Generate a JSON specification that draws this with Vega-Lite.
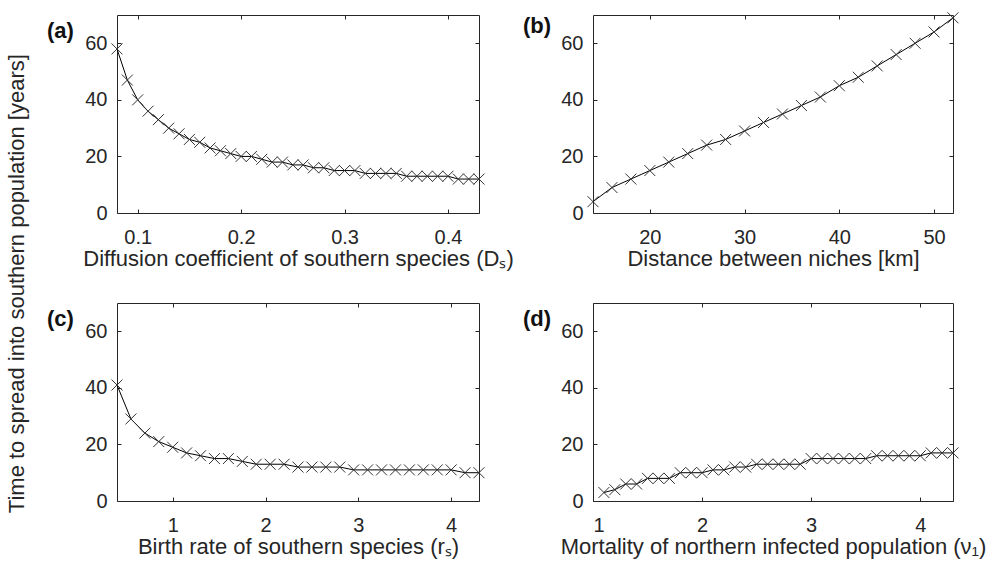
{
  "$schema": "https://vega.github.io/schema/vega-lite/v6.json",
  "padding": {"left": 5, "top": 9, "right": 5, "bottom": 5},
  "background": "white",
  "title": {"text": "Time to spread into southern population [years]", "orient": "left", "anchor": "middle", "fontSize": 22, "fontWeight": "normal", "font": "Liberation Sans", "color": "#262626", "offset": 18},
  "datasets": {
    "a": [
      {"x": 0.08, "y": 58}, {"x": 0.09, "y": 47}, {"x": 0.10, "y": 40}, {"x": 0.11, "y": 36}, {"x": 0.12, "y": 33},
      {"x": 0.13, "y": 30}, {"x": 0.14, "y": 28}, {"x": 0.15, "y": 26}, {"x": 0.16, "y": 25}, {"x": 0.17, "y": 23},
      {"x": 0.18, "y": 22}, {"x": 0.19, "y": 21}, {"x": 0.20, "y": 20}, {"x": 0.21, "y": 20}, {"x": 0.22, "y": 19},
      {"x": 0.23, "y": 18}, {"x": 0.24, "y": 18}, {"x": 0.25, "y": 17}, {"x": 0.26, "y": 17}, {"x": 0.27, "y": 16},
      {"x": 0.28, "y": 16}, {"x": 0.29, "y": 15}, {"x": 0.30, "y": 15}, {"x": 0.31, "y": 15}, {"x": 0.32, "y": 14},
      {"x": 0.33, "y": 14}, {"x": 0.34, "y": 14}, {"x": 0.35, "y": 14}, {"x": 0.36, "y": 13}, {"x": 0.37, "y": 13},
      {"x": 0.38, "y": 13}, {"x": 0.39, "y": 13}, {"x": 0.40, "y": 13}, {"x": 0.41, "y": 12}, {"x": 0.42, "y": 12},
      {"x": 0.43, "y": 12}
    ],
    "b": [
      {"x": 14, "y": 4}, {"x": 16, "y": 9}, {"x": 18, "y": 12}, {"x": 20, "y": 15}, {"x": 22, "y": 18},
      {"x": 24, "y": 21}, {"x": 26, "y": 24}, {"x": 28, "y": 26}, {"x": 30, "y": 29}, {"x": 32, "y": 32},
      {"x": 34, "y": 35}, {"x": 36, "y": 38}, {"x": 38, "y": 41}, {"x": 40, "y": 45}, {"x": 42, "y": 48},
      {"x": 44, "y": 52}, {"x": 46, "y": 56}, {"x": 48, "y": 60}, {"x": 50, "y": 64}, {"x": 52, "y": 69}
    ],
    "c": [
      {"x": 0.40, "y": 41}, {"x": 0.55, "y": 29}, {"x": 0.70, "y": 24}, {"x": 0.85, "y": 21}, {"x": 1.00, "y": 19},
      {"x": 1.15, "y": 17}, {"x": 1.30, "y": 16}, {"x": 1.45, "y": 15}, {"x": 1.60, "y": 15}, {"x": 1.75, "y": 14},
      {"x": 1.90, "y": 13}, {"x": 2.05, "y": 13}, {"x": 2.20, "y": 13}, {"x": 2.35, "y": 12}, {"x": 2.50, "y": 12},
      {"x": 2.65, "y": 12}, {"x": 2.80, "y": 12}, {"x": 2.95, "y": 11}, {"x": 3.10, "y": 11}, {"x": 3.25, "y": 11},
      {"x": 3.40, "y": 11}, {"x": 3.55, "y": 11}, {"x": 3.70, "y": 11}, {"x": 3.85, "y": 11}, {"x": 4.00, "y": 11},
      {"x": 4.15, "y": 10}, {"x": 4.30, "y": 10}
    ],
    "d": [
      {"x": 1.1, "y": 3}, {"x": 1.2, "y": 4}, {"x": 1.3, "y": 6}, {"x": 1.4, "y": 6}, {"x": 1.5, "y": 8},
      {"x": 1.6, "y": 8}, {"x": 1.7, "y": 8}, {"x": 1.8, "y": 10}, {"x": 1.9, "y": 10}, {"x": 2.0, "y": 10},
      {"x": 2.1, "y": 11}, {"x": 2.2, "y": 11}, {"x": 2.3, "y": 12}, {"x": 2.4, "y": 12}, {"x": 2.5, "y": 13},
      {"x": 2.6, "y": 13}, {"x": 2.7, "y": 13}, {"x": 2.8, "y": 13}, {"x": 2.9, "y": 13}, {"x": 3.0, "y": 15},
      {"x": 3.1, "y": 15}, {"x": 3.2, "y": 15}, {"x": 3.3, "y": 15}, {"x": 3.4, "y": 15}, {"x": 3.5, "y": 15},
      {"x": 3.6, "y": 16}, {"x": 3.7, "y": 16}, {"x": 3.8, "y": 16}, {"x": 3.9, "y": 16}, {"x": 4.0, "y": 16},
      {"x": 4.1, "y": 17}, {"x": 4.2, "y": 17}, {"x": 4.3, "y": 17}
    ]
  },
  "columns": 2,
  "spacing": {"row": 90, "column": 114},
  "bounds": "flush",
  "concat": [
    {
      "data": {"name": "a"},
      "width": 362, "height": 198,
      "title": {"text": "(a)", "anchor": "start", "frame": "group", "orient": "top", "offset": 0, "dx": -70, "dy": 45, "baseline": "alphabetic", "fontSize": 22, "fontWeight": "bold", "font": "Liberation Sans", "color": "#111111"},
      "layer": [
        {"mark": {"type": "line", "color": "#000000", "strokeWidth": 1},
         "encoding": {
           "x": {"field": "x", "type": "quantitative", "scale": {"domain": [0.08, 0.43], "nice": false, "zero": false},
                 "axis": {"values": [0.1, 0.2, 0.3, 0.4], "format": ".1f", "title": "Diffusion coefficient of southern species (Dₛ)"}},
           "y": {"field": "y", "type": "quantitative", "scale": {"domain": [0, 70], "nice": false},
                 "axis": {"values": [0, 20, 40, 60], "title": null}}}},
        {"mark": {"type": "point", "shape": "M-1,-1L1,1M-1,1L1,-1", "size": 120, "filled": false, "stroke": "#333333", "strokeWidth": 1, "opacity": 1},
         "encoding": {
           "x": {"field": "x", "type": "quantitative", "axis": {"orient": "top", "values": [0.1, 0.2, 0.3, 0.4], "labels": false, "title": null}},
           "y": {"field": "y", "type": "quantitative", "axis": {"orient": "right", "values": [0, 20, 40, 60], "labels": false, "title": null}}}}
      ],
      "resolve": {"axis": {"x": "independent", "y": "independent"}}
    },
    {
      "data": {"name": "b"},
      "width": 360, "height": 198,
      "title": {"text": "(b)", "anchor": "start", "frame": "group", "orient": "top", "offset": 0, "dx": -70, "dy": 45, "baseline": "alphabetic", "fontSize": 22, "fontWeight": "bold", "font": "Liberation Sans", "color": "#111111"},
      "layer": [
        {"mark": {"type": "line", "color": "#000000", "strokeWidth": 1},
         "encoding": {
           "x": {"field": "x", "type": "quantitative", "scale": {"domain": [14, 52], "nice": false, "zero": false},
                 "axis": {"values": [20, 30, 40, 50], "title": "Distance between niches [km]"}},
           "y": {"field": "y", "type": "quantitative", "scale": {"domain": [0, 70], "nice": false},
                 "axis": {"values": [0, 20, 40, 60], "title": null}}}},
        {"mark": {"type": "point", "shape": "M-1,-1L1,1M-1,1L1,-1", "size": 120, "filled": false, "stroke": "#333333", "strokeWidth": 1, "opacity": 1},
         "encoding": {
           "x": {"field": "x", "type": "quantitative", "axis": {"orient": "top", "values": [20, 30, 40, 50], "labels": false, "title": null}},
           "y": {"field": "y", "type": "quantitative", "axis": {"orient": "right", "values": [0, 20, 40, 60], "labels": false, "title": null}}}}
      ],
      "resolve": {"axis": {"x": "independent", "y": "independent"}}
    },
    {
      "data": {"name": "c"},
      "width": 362, "height": 198,
      "title": {"text": "(c)", "anchor": "start", "frame": "group", "orient": "top", "offset": 0, "dx": -70, "dy": 45, "baseline": "alphabetic", "fontSize": 22, "fontWeight": "bold", "font": "Liberation Sans", "color": "#111111"},
      "layer": [
        {"mark": {"type": "line", "color": "#000000", "strokeWidth": 1},
         "encoding": {
           "x": {"field": "x", "type": "quantitative", "scale": {"domain": [0.4, 4.3], "nice": false, "zero": false},
                 "axis": {"values": [1, 2, 3, 4], "title": "Birth rate of southern species (rₛ)"}},
           "y": {"field": "y", "type": "quantitative", "scale": {"domain": [0, 70], "nice": false},
                 "axis": {"values": [0, 20, 40, 60], "title": null}}}},
        {"mark": {"type": "point", "shape": "M-1,-1L1,1M-1,1L1,-1", "size": 120, "filled": false, "stroke": "#333333", "strokeWidth": 1, "opacity": 1},
         "encoding": {
           "x": {"field": "x", "type": "quantitative", "axis": {"orient": "top", "values": [1, 2, 3, 4], "labels": false, "title": null}},
           "y": {"field": "y", "type": "quantitative", "axis": {"orient": "right", "values": [0, 20, 40, 60], "labels": false, "title": null}}}}
      ],
      "resolve": {"axis": {"x": "independent", "y": "independent"}}
    },
    {
      "data": {"name": "d"},
      "width": 360, "height": 198,
      "title": {"text": "(d)", "anchor": "start", "frame": "group", "orient": "top", "offset": 0, "dx": -70, "dy": 45, "baseline": "alphabetic", "fontSize": 22, "fontWeight": "bold", "font": "Liberation Sans", "color": "#111111"},
      "layer": [
        {"mark": {"type": "line", "color": "#000000", "strokeWidth": 1},
         "encoding": {
           "x": {"field": "x", "type": "quantitative", "scale": {"domain": [1.0, 4.3], "nice": false, "zero": false},
                 "axis": {"values": [1, 2, 3, 4], "title": "Mortality of northern infected population (ν₁)"}},
           "y": {"field": "y", "type": "quantitative", "scale": {"domain": [0, 70], "nice": false},
                 "axis": {"values": [0, 20, 40, 60], "title": null}}}},
        {"mark": {"type": "point", "shape": "M-1,-1L1,1M-1,1L1,-1", "size": 120, "filled": false, "stroke": "#333333", "strokeWidth": 1, "opacity": 1},
         "encoding": {
           "x": {"field": "x", "type": "quantitative", "axis": {"orient": "top", "values": [1, 2, 3, 4], "labels": false, "title": null}},
           "y": {"field": "y", "type": "quantitative", "axis": {"orient": "right", "values": [0, 20, 40, 60], "labels": false, "title": null}}}}
      ],
      "resolve": {"axis": {"x": "independent", "y": "independent"}}
    }
  ],
  "config": {
    "view": {"stroke": "#262626", "strokeWidth": 1},
    "axis": {"grid": false, "domain": false, "tickSize": -4, "tickColor": "#262626", "tickWidth": 1,
             "labelFont": "Liberation Sans", "labelFontSize": 20, "labelColor": "#262626",
             "titleFont": "Liberation Sans", "titleFontSize": 22, "titleFontWeight": "normal", "titleColor": "#262626"},
    "axisX": {"labelPadding": 18, "titlePadding": 1},
    "axisY": {"labelPadding": 14}
  }
}
